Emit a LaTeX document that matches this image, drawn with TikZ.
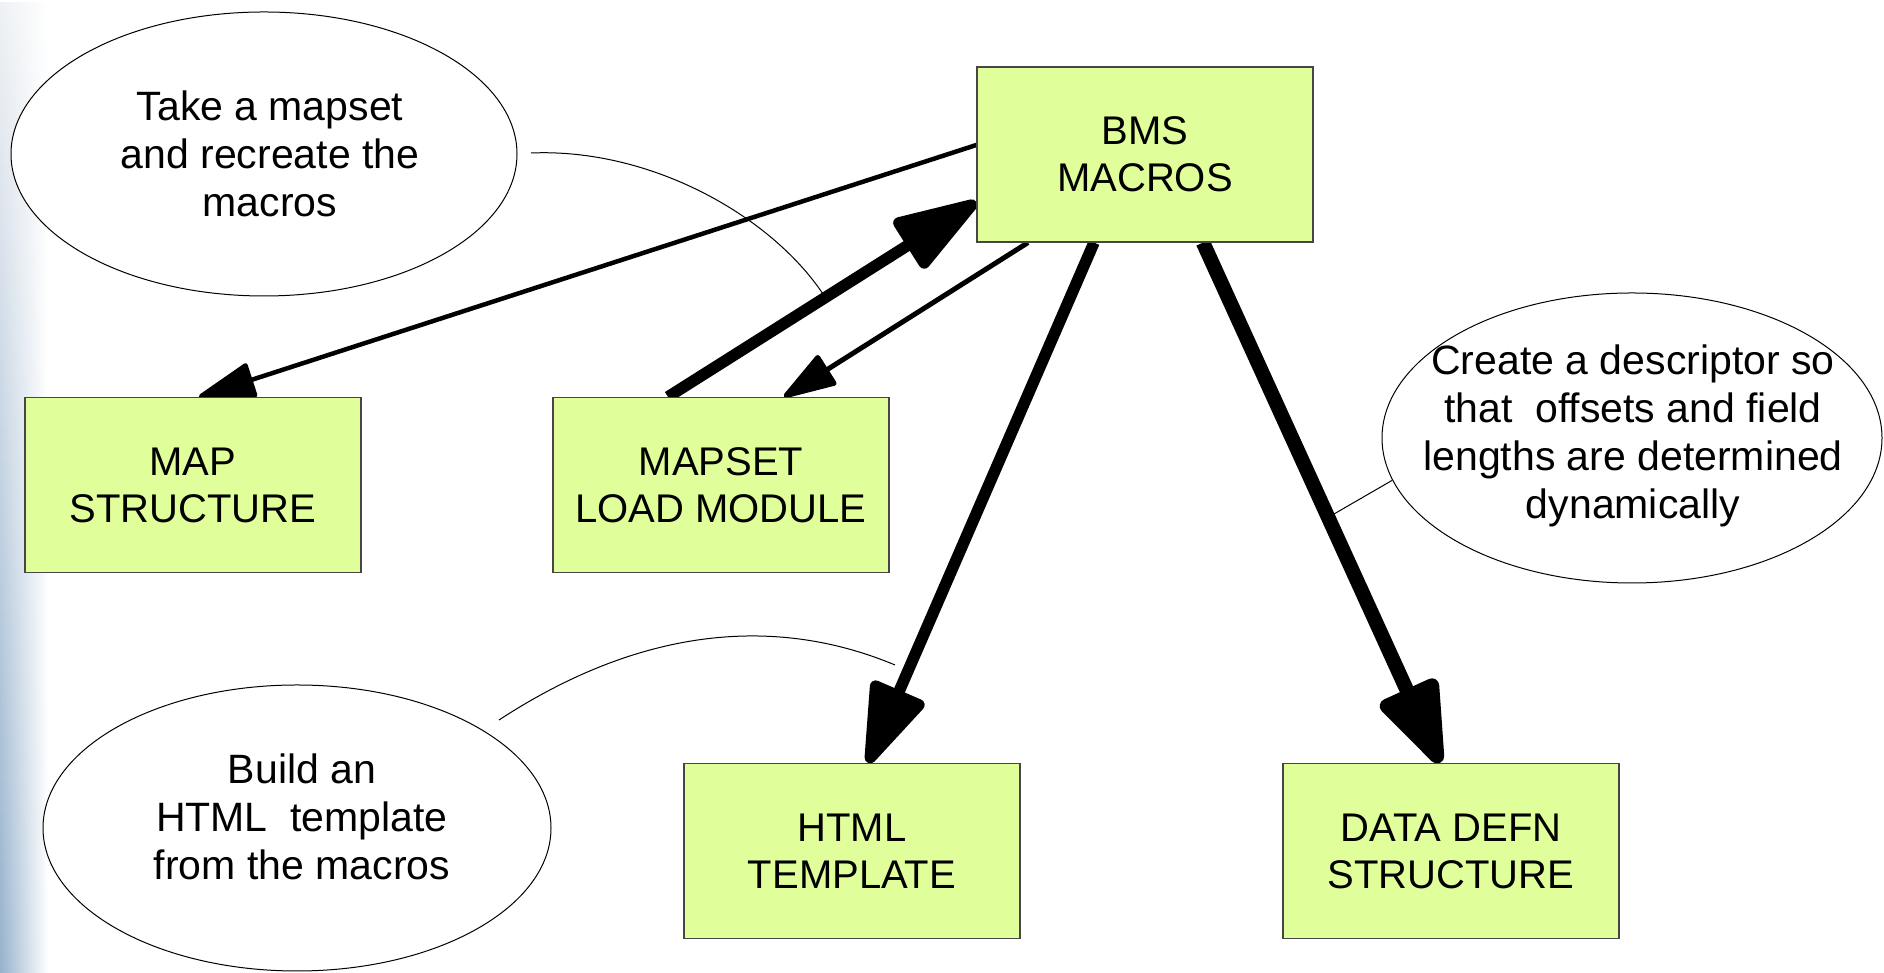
\documentclass[tikz,border=0pt]{standalone}
\usepackage{fontspec}
\setmainfont{Liberation Sans}
\usetikzlibrary{calc,shapes.geometric,arrows.meta,fadings,backgrounds}

\definecolor{boxgreen}{RGB}{224,254,153}
\definecolor{boxedge}{RGB}{70,70,70}
\definecolor{stripgrey}{RGB}{238,241,244}
\definecolor{stripmid}{RGB}{212,218,224}
\definecolor{stripblue}{RGB}{150,178,205}

\tikzset{
  block/.style={draw=boxedge, line width=1.2pt, fill=boxgreen,
    minimum width=336pt, minimum height=175pt, inner sep=0pt,
    align=center, font=\fontsize{40}{47}\selectfont},
  note/.style={ellipse, draw, line width=1pt, fill=white, inner sep=0pt},
  notetext/.style={inner sep=0pt, align=center, font=\fontsize{41}{48}\selectfont},
  callout/.style={line width=1pt},
}

\begin{document}
\begin{tikzpicture}[x=1pt, y=1pt]
        \useasboundingbox (0,0) rectangle (1884,973);

        % boxes
        \node[block] (bms)    at (1145,818.5) {BMS\\MACROS};
        \node[block] (map)    at (193,488)    {MAP\\STRUCTURE};
        \node[block] (mapset) at (721,488)    {MAPSET\\LOAD MODULE};
        \node[block] (html)   at (852,122)    {HTML\\TEMPLATE};
        \node[block] (ddefn)  at (1451,122)   {DATA DEFN\\STRUCTURE};

        % notes
        \node[note, minimum width=506pt, minimum height=284pt] (take)  at (264,819) {};
        \node[note, minimum width=500pt, minimum height=290pt] (descr) at (1632,535) {};
        \node[note, minimum width=508pt, minimum height=286pt] (build) at (297,145) {};

        \node[notetext] (taketext)  at (270,819)  {Take a mapset\\and recreate the\\macros};
        \node[notetext] (descrtext) at (1633,537) {Create a descriptor so\\that~ offsets and field\\lengths are determined\\dynamically};
        \node[notetext] (buildtext) at (302,156)  {Build an\\HTML~ template\\from the macros};

        % ends of the note lines
        \coordinate (takefoot)  at (531,820);
        \coordinate (takeend)   at (823,679);
        \coordinate (descrend)  at (1334,459);
        \coordinate (buildfoot) at (499,253);
        \coordinate (buildend)  at (895,308);

        \begin{scope}[on background layer]
            % faded strip on the left edge
            \shade[top color=stripgrey, middle color=stripmid, bottom color=stripblue,
                path fading=east] (0,0) rectangle (48,973);

            % arrows
            \draw[line width=4.5pt, -{Triangle[length=62pt, width=36pt, round]}]
                ([yshift=9.5pt]bms.west) -- ([xshift=6pt]map.north);
            \draw[line width=11.5pt, -{Triangle[length=96pt, width=60pt, round]}]
                ([xshift=-53pt]mapset.north) -- ([yshift=-47.5pt]bms.west);
            \draw[line width=5pt, -{Triangle[length=58pt, width=36pt, round]}]
                ([xshift=-117pt]bms.south) -- ([xshift=63pt]mapset.north);
            \draw[line width=11.5pt, -{Triangle[length=92pt, width=60pt, round]}]
                ([xshift=-51pt]bms.south) -- ([xshift=16pt]html.north);
            \draw[line width=14.5pt, -{Triangle[length=96pt, width=66pt, round]}]
                ([xshift=58pt]bms.south) -- ([xshift=-11pt]ddefn.north);
        \end{scope}

        % note lines
        \draw[callout] (takefoot) .. controls (650,825) and (770,758) .. (takeend);
        \draw[callout] (descr.190) -- (descrend);
        \draw[callout] (buildfoot) .. controls (655,355) and (790,352) .. (buildend);

\end{tikzpicture}
\end{document}
